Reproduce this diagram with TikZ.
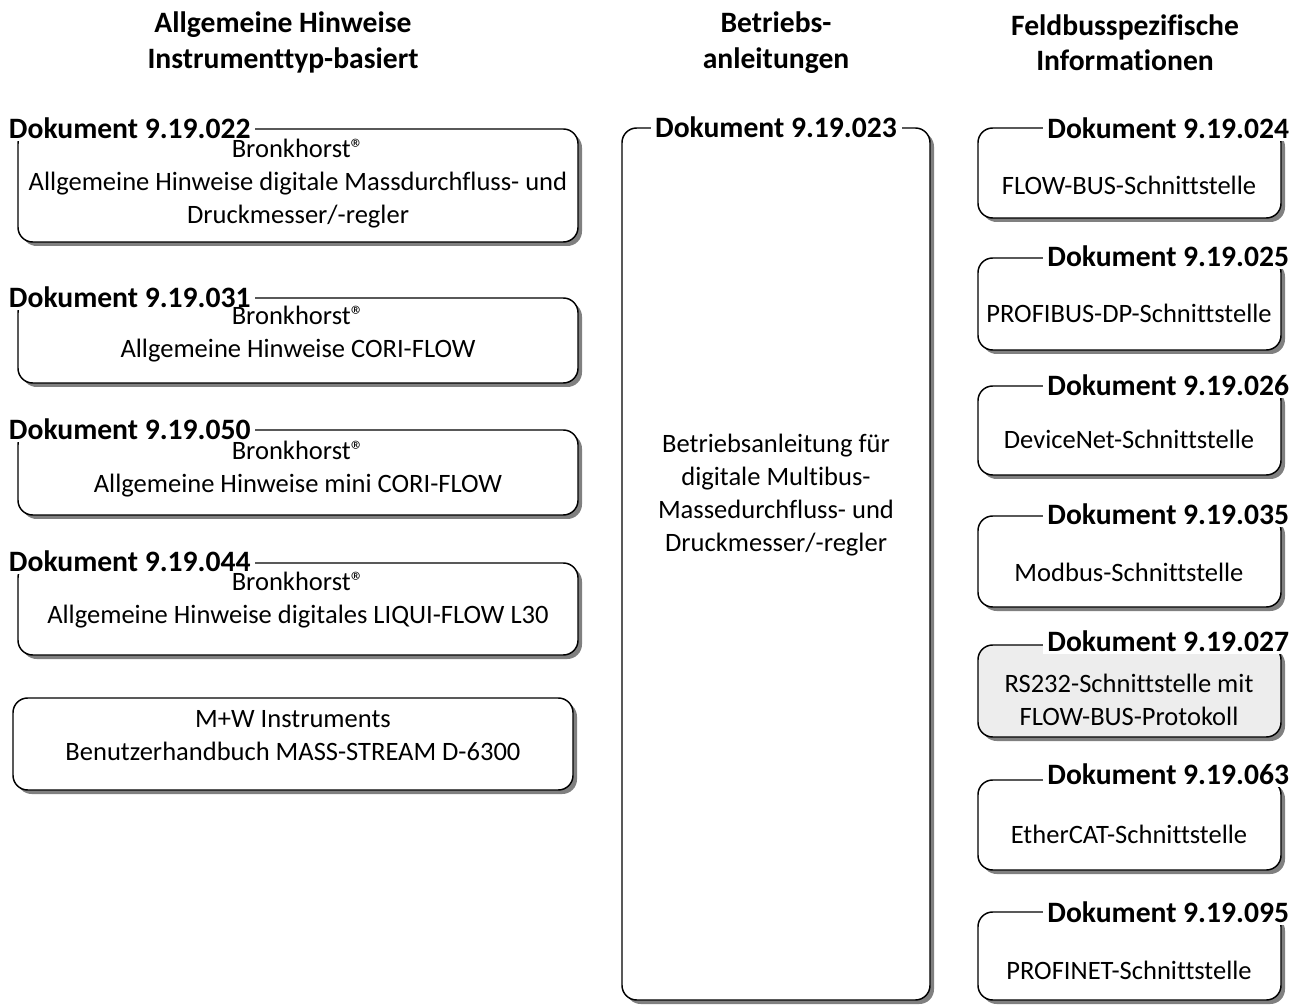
\documentclass[tikz,border=0pt]{standalone}
\usepackage{fontspec}
\setmainfont{Carlito}[Ligatures=NoCommon]
\usetikzlibrary{fit,shadows}
\begin{document}
\begin{tikzpicture}[x=0.75pt,y=-0.75pt,
 box/.style={draw=black, line width=1.1pt, rounded corners=11pt, fill=white, inner sep=0pt,
   drop shadow={shadow xshift=3pt, shadow yshift=-3pt, fill=black!50, opacity=1}},
 greybox/.style={box, fill=black!7},
 doc/.style={fill=white, inner xsep=3.5pt, inner ysep=2pt, font=\fontsize{22.2}{26.5}\selectfont\bfseries},
 txt/.style={align=center, inner sep=0pt, font=\fontsize{19.9}{24.75}\selectfont},
 head/.style={align=center, inner sep=0pt, font=\fontsize{22.2}{26.5}\selectfont\bfseries}]
\useasboundingbox (0,0) rectangle (1293,1005);

% column headings
\node[head] (h1) at (283,42.5) {Allgemeine Hinweise\\Instrumenttyp-basiert};
\node[head] (h2) at (776,42.5) {Betriebs-\\anleitungen};
\node[head] (h3) at (1125,42.5) {Feldbusspezifische\\Informationen};

% left column
\node[box, fit={(18,129)(578,242)}] (L1) {};
\node[doc, anchor=west] (L1d) at (4,128) {Dokument 9.19.022};
\node[txt] (L1t) at (298,184) {Bronkhorst®\\Allgemeine Hinweise digitale Massdurchfluss- und\\Druckmesser/-regler};

\node[box, fit={(18,298)(578,383)}] (L2) {};
\node[doc, anchor=west] (L2d) at (4,297) {Dokument 9.19.031};
\node[txt] (L2t) at (298,334) {Bronkhorst®\\Allgemeine Hinweise CORI-FLOW};

\node[box, fit={(18,430)(578,515)}] (L3) {};
\node[doc, anchor=west] (L3d) at (4,429) {Dokument 9.19.050};
\node[txt] (L3t) at (298,469) {Bronkhorst®\\Allgemeine Hinweise mini CORI-FLOW};

\node[box, fit={(18,563)(578,655)}] (L4) {};
\node[doc, anchor=west] (L4d) at (4,561) {Dokument 9.19.044};
\node[txt] (L4t) at (298,600) {Bronkhorst®\\Allgemeine Hinweise digitales LIQUI-FLOW L30};

\node[box, fit={(13,698)(573,790)}] (L5) {};
\node[txt] (L5t) at (293,736) {M+W Instruments\\Benutzerhandbuch MASS-STREAM D-6300};

% middle column
\node[box, fit={(622,128)(930,1000)}] (M) {};
\node[doc] (Md) at (776,127) {Dokument 9.19.023};
\node[txt] (Mt) at (776,495) {Betriebsanleitung für\\digitale Multibus-\\Massedurchfluss- und\\Druckmesser/-regler};

% right column
\node[box, fit={(978,128)(1281,218)}] (R1) {};
\node[doc, anchor=east] (R1d) at (1294,128) {Dokument 9.19.024};
\node[txt] (R1t) at (1129,185) {FLOW-BUS-Schnittstelle};

\node[box, fit={(978,258)(1281,350)}] (R2) {};
\node[doc, anchor=east] (R2d) at (1294,256) {Dokument 9.19.025};
\node[txt] (R2t) at (1129,313) {PROFIBUS-DP-Schnittstelle};

\node[box, fit={(978,386)(1281,475)}] (R3) {};
\node[doc, anchor=east] (R3d) at (1294,385) {Dokument 9.19.026};
\node[txt] (R3t) at (1129,439) {DeviceNet-Schnittstelle};

\node[box, fit={(978,516)(1281,607)}] (R4) {};
\node[doc, anchor=east] (R4d) at (1294,514) {Dokument 9.19.035};
\node[txt] (R4t) at (1129,572) {Modbus-Schnittstelle};

\node[greybox, fit={(978,645)(1281,737)}] (R5) {};
\node[doc, anchor=east] (R5d) at (1294,641) {Dokument 9.19.027};
\node[txt] (R5t) at (1129,700) {RS232-Schnittstelle mit\\FLOW-BUS-Protokoll};

\node[box, fit={(978,780)(1281,870)}] (R6) {};
\node[doc, anchor=east] (R6d) at (1294,774) {Dokument 9.19.063};
\node[txt] (R6t) at (1129,834) {EtherCAT-Schnittstelle};

\node[box, fit={(978,912)(1281,1000)}] (R7) {};
\node[doc, anchor=east] (R7d) at (1294,912) {Dokument 9.19.095};
\node[txt] (R7t) at (1129,970) {PROFINET-Schnittstelle};
\end{tikzpicture}
\end{document}
